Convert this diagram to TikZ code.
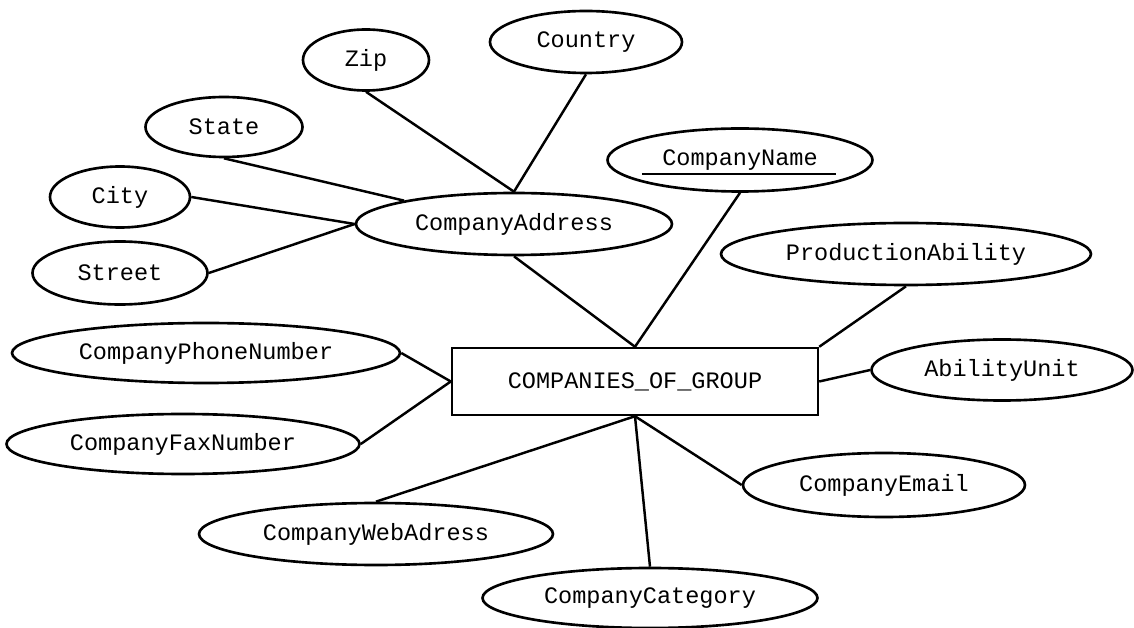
\documentclass[tikz,border=0pt]{standalone}
\usepackage{fontspec}
\setmonofont{Liberation Mono}
\usepackage{tikz}
\usetikzlibrary{shapes.geometric, positioning}

\begin{document}
\begin{tikzpicture}[
            attr/.style={draw=black, line width=1.5pt, ellipse, fill=white, inner sep=0pt, font=\ttfamily\fontsize{13.4}{16}\selectfont},
            entity/.style={draw=black, line width=1.4pt, rectangle, fill=white, inner sep=0pt, minimum width=7.32cm, minimum height=1.34cm, font=\ttfamily\fontsize{13.4}{16}\selectfont},
            link/.style={draw=black, line width=1.4pt}
        ]
        \useasboundingbox (-11.34,-6.28) rectangle (11.34,6.28);

        % --- ENCJA ---
        \node[entity] (comp) at (1.36, -1.35) {COMPANIES\_OF\_GROUP};

        % --- ADRES (atrybut zlozony) ---
        \node[attr, minimum width=6.32cm, minimum height=1.24cm] (addr) at (-1.06, 1.80) {CompanyAddress};
        \node[attr, minimum width=3.84cm, minimum height=1.24cm] (country) at (0.38, 5.44) {Country};
        \node[attr, minimum width=2.52cm, minimum height=1.22cm] (zip) at (-4.02, 5.08) {Zip};
        \node[attr, minimum width=3.14cm, minimum height=1.20cm] (state) at (-6.86, 3.74) {State};
        \node[attr, minimum width=2.80cm, minimum height=1.22cm] (city) at (-8.94, 2.34) {City};
        \node[attr, minimum width=3.50cm, minimum height=1.26cm] (street) at (-8.94, 0.82) {Street};

        % --- POZOSTALE ATRYBUTY ---
        \node[attr, minimum width=5.30cm, minimum height=1.26cm] (cname) at (3.46, 3.08) {CompanyName};
        \draw[line width=1.2pt] ([xshift=-1.96cm, yshift=-0.28cm]cname.center) -- ([xshift=1.92cm, yshift=-0.28cm]cname.center);
        \node[attr, minimum width=7.40cm, minimum height=1.24cm] (prod) at (6.78, 1.20) {ProductionAbility};
        \node[attr, minimum width=5.22cm, minimum height=1.22cm] (unit) at (8.70, -1.12) {AbilityUnit};
        \node[attr, minimum width=7.76cm, minimum height=1.20cm] (phone) at (-7.22, -0.78) {CompanyPhoneNumber};
        \node[attr, minimum width=7.06cm, minimum height=1.20cm] (fax) at (-7.68, -2.60) {CompanyFaxNumber};
        \node[attr, minimum width=5.64cm, minimum height=1.28cm] (email) at (6.34, -3.42) {CompanyEmail};
        \node[attr, minimum width=7.08cm, minimum height=1.24cm] (web) at (-3.82, -4.40) {CompanyWebAdress};
        \node[attr, minimum width=6.70cm, minimum height=1.20cm] (cat) at (1.66, -5.68) {CompanyCategory};

        % --- POLACZENIA ---
        \draw[link] (zip.south) -- (addr.north);
        \draw[link] (country.south) -- (addr.north);
        \draw[link] (state.south) -- (addr.168);
        \draw[link] (city.east) -- (addr.west);
        \draw[link] (street.east) -- (addr.west);

        \draw[link] (addr.south) -- (comp.north);
        \draw[link] (cname.south) -- (comp.north);
        \draw[link] (prod.south) -- (comp.north east);
        \draw[link] (unit.west) -- (comp.east);
        \draw[link] (phone.east) -- (comp.west);
        \draw[link] (fax.east) -- (comp.west);
        \draw[link] (web.north) -- (comp.south);
        \draw[link] (cat.north) -- (comp.south);
        \draw[link] (email.west) -- (comp.south);

        \end{tikzpicture}
\end{document}
